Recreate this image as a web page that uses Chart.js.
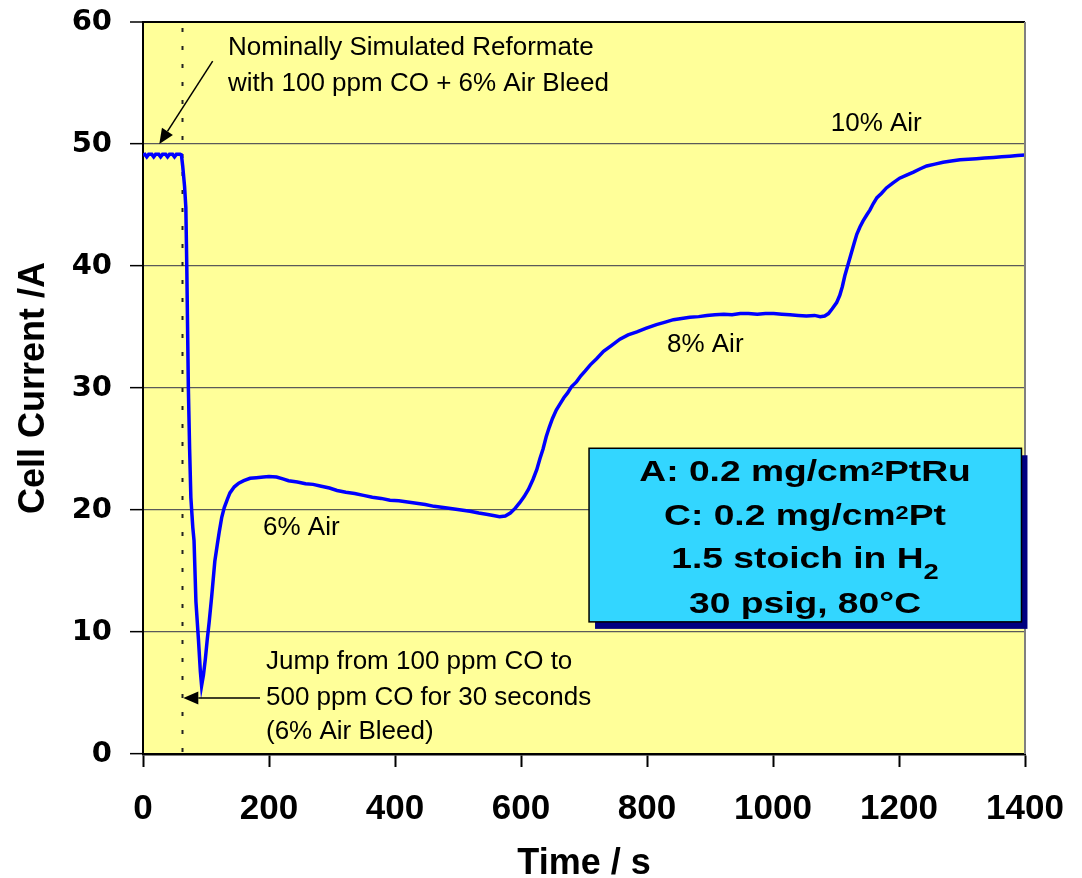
<!DOCTYPE html>
<html>
<head>
<meta charset="utf-8">
<script src="https://cdn.jsdelivr.net/npm/chart.js@4.4.1/dist/chart.umd.min.js"></script>
<style>
  html, body { margin: 0; padding: 0; background: #ffffff; }
  canvas { display: block; }
</style>
</head>
<body>
<canvas id="chart" width="1082" height="878"></canvas>
<script>
// Cell current response to a CO pulse and to stepped air-bleed levels
const timeSec = [
  0, 3, 6, 9, 14, 17, 20, 25, 28, 31, 36, 39, 42, 47, 50, 53, 59, 61,
  63, 66, 68, 69.5, 72, 74, 76, 79, 81, 84, 88, 91, 93, 96, 99, 102, 105, 109,
  114, 118, 121, 125, 129, 134, 138, 145, 152, 160, 170, 180, 191, 200, 212,
  222, 231, 245, 258, 270, 283, 296, 308, 322, 336, 350, 364, 378, 392, 406,
  420, 434, 448, 462, 477, 491, 505, 519, 533, 545, 556, 566, 575, 583, 591,
  598, 605, 612, 619, 625, 630, 635, 640, 645, 650, 656, 662, 668, 674, 680,
  688, 695, 702, 710, 720, 731, 744, 757, 770, 784, 799, 815, 829, 842, 855,
  868, 882, 895, 908, 922, 935, 948, 961, 975, 988, 1001, 1014, 1027, 1040,
  1053, 1066, 1075, 1082, 1088, 1094, 1101, 1106, 1110, 1114, 1119, 1124,
  1129, 1133, 1138, 1143, 1149, 1154, 1159, 1165, 1172, 1180, 1190, 1201,
  1212, 1223, 1233, 1244, 1257, 1270, 1283, 1297, 1310, 1323, 1336, 1350,
  1363, 1376, 1388, 1400
];
const cellCurrent = [
  49.1, 49.15, 48.95, 49.15, 49.15, 48.95, 49.15, 49.15, 48.95, 49.15, 49.15, 48.95, 49.15, 49.15, 48.95, 49.15, 49.15, 49.1,
  48.2, 46.5, 44.8, 40.0, 30.0, 25.0, 21.0, 18.6, 17.5, 12.5, 9.4, 6.8, 5.6, 6.5, 7.8, 9.4, 10.8, 12.9,
  15.8, 17.2, 18.2, 19.4, 20.2, 20.9, 21.4, 21.9, 22.2, 22.4, 22.6, 22.65, 22.7, 22.75, 22.7,
  22.55, 22.4, 22.3, 22.15, 22.1, 21.95, 21.8, 21.6, 21.45, 21.35, 21.2, 21.05, 20.95, 20.8, 20.75,
  20.65, 20.55, 20.45, 20.3, 20.2, 20.1, 20.0, 19.9, 19.75, 19.65, 19.55, 19.45, 19.5, 19.75, 20.15,
  20.6, 21.1, 21.7, 22.5, 23.3, 24.2, 25.0, 26.0, 26.8, 27.5, 28.2, 28.7, 29.2, 29.6, 30.1,
  30.5, 31.0, 31.4, 31.9, 32.4, 33.0, 33.5, 34.0, 34.35, 34.6, 34.9, 35.2, 35.4, 35.6, 35.7,
  35.8, 35.85, 35.95, 36.0, 36.05, 36.0, 36.1, 36.1, 36.05, 36.1, 36.1, 36.05, 36.0, 35.95,
  35.9, 35.95, 35.85, 35.9, 36.1, 36.5, 37.0, 37.6, 38.3, 39.2, 40.1, 41.0,
  41.9, 42.6, 43.2, 43.7, 44.2, 44.6, 45.1, 45.6, 45.95, 46.4, 46.8, 47.2,
  47.45, 47.7, 47.95, 48.2, 48.35, 48.5, 48.6, 48.7, 48.75, 48.8, 48.85, 48.9,
  48.95, 49.0, 49.05, 49.1
];
const timeTicks = [0, 200, 400, 600, 800, 1000, 1200, 1400];
const currentTicks = [0, 10, 20, 30, 40, 50, 60];

// Moment of the 500 ppm CO pulse (dotted marker)
const pulseTime = 62;

const SANS = '"Liberation Sans", Arial, Helvetica, sans-serif';

function arrow(ctx, x1, y1, x2, y2) {
  const ang = Math.atan2(y2 - y1, x2 - x1);
  const len = 15, half = 6.5;
  const bx = x2 - len * Math.cos(ang), by = y2 - len * Math.sin(ang);
  ctx.beginPath();
  ctx.moveTo(x1, y1);
  ctx.lineTo(bx, by);
  ctx.strokeStyle = '#000';
  ctx.lineWidth = 1.5;
  ctx.stroke();
  ctx.beginPath();
  ctx.moveTo(x2, y2);
  ctx.lineTo(bx + half * Math.sin(ang), by - half * Math.cos(ang));
  ctx.lineTo(bx - half * Math.sin(ang), by + half * Math.cos(ang));
  ctx.closePath();
  ctx.fillStyle = '#000';
  ctx.fill();
}

// One line of the conditions box: runs of text with their own size and vertical shift
function richLine(ctx, parts, cx, baseline, stretch) {
  let total = 0;
  parts.forEach(p => {
    ctx.font = 'bold ' + p.size + 'px ' + SANS;
    p.w = ctx.measureText(p.text).width;
    total += p.w;
  });
  ctx.save();
  ctx.translate(cx, baseline);
  ctx.scale(stretch, 1);
  ctx.fillStyle = '#000';
  ctx.textBaseline = 'alphabetic';
  ctx.textAlign = 'left';
  let x = -total / 2;
  parts.forEach(p => {
    ctx.font = 'bold ' + p.size + 'px ' + SANS;
    ctx.fillText(p.text, x, p.dy || 0);
    x += p.w;
  });
  ctx.restore();
}

const decorPlugin = {
  id: 'decor',
  beforeDraw(chart) {
    const { ctx, chartArea: a } = chart;
    ctx.save();
    ctx.fillStyle = '#FFFF99';
    ctx.fillRect(a.left, a.top, a.right - a.left, a.bottom - a.top);
    ctx.restore();
  },
  beforeDatasetsDraw(chart) {
    const { ctx, chartArea: a, scales: { x } } = chart;
    const px = Math.round(x.getPixelForValue(pulseTime)) + 0.5;
    ctx.save();
    ctx.strokeStyle = '#222';
    ctx.lineWidth = 2;
    ctx.setLineDash([4, 14]);
    ctx.beginPath();
    ctx.moveTo(px, a.top + 6);
    ctx.lineTo(px, a.bottom);
    ctx.stroke();
    ctx.restore();
  },
  afterDatasetsDraw(chart) {
    const { ctx, chartArea: a, scales: { x, y } } = chart;
    const X = v => x.getPixelForValue(v);
    const Y = v => y.getPixelForValue(v);
    ctx.save();

    // right frame edge
    ctx.strokeStyle = '#808080';
    ctx.lineWidth = 2;
    ctx.beginPath();
    ctx.moveTo(a.right, a.top);
    ctx.lineTo(a.right, a.bottom);
    ctx.stroke();

    // annotations
    ctx.fillStyle = '#000';
    ctx.font = '26px ' + SANS;
    ctx.textAlign = 'left';
    ctx.textBaseline = 'alphabetic';
    ctx.fillText('Nominally Simulated Reformate', X(135), Y(57.26));
    ctx.fillText('with 100 ppm CO + 6% Air Bleed', X(135), Y(54.35));
    arrow(ctx, X(110.6), Y(56.8), X(25.9), Y(50.0));

    ctx.fillStyle = '#000';
    ctx.font = '26px ' + SANS;
    ctx.fillText('10% Air', X(1091.6), Y(51.05));
    ctx.fillText('8% Air', X(831.7), Y(32.95));
    ctx.fillText('6% Air', X(190.5), Y(17.97));
    ctx.fillText('Jump from 100 ppm CO to', X(195.2), Y(6.97));
    ctx.fillText('500 ppm CO for 30 seconds', X(195.2), Y(4.02));
    ctx.fillText('(6% Air Bleed)', X(195.2), Y(1.23));
    arrow(ctx, X(185.7), Y(4.59), X(64), Y(4.59));

    // conditions box with drop shadow
    const bl = X(708), br = X(1394.4), bt = Y(25.06), bb = Y(10.83);
    ctx.fillStyle = '#000080';
    ctx.fillRect(bl + 6, bt + 7, br - bl, bb - bt);
    ctx.fillStyle = '#33D6FF';
    ctx.fillRect(bl, bt, br - bl, bb - bt);
    ctx.strokeStyle = '#000';
    ctx.lineWidth = 1.5;
    ctx.strokeRect(bl, bt, br - bl, bb - bt);

    const cx = X(1050.8);
    const st = 1.24;
    richLine(ctx, [{ text: 'A: 0.2 mg/cm', size: 30 }, { text: '2', size: 19, dy: -6 }, { text: 'PtRu', size: 30 }], cx, Y(22.34), st);
    richLine(ctx, [{ text: 'C: 0.2 mg/cm', size: 30 }, { text: '2', size: 19, dy: -6 }, { text: 'Pt', size: 30 }], cx, Y(18.79), st);
    richLine(ctx, [{ text: '1.5 stoich in H', size: 30 }, { text: '2', size: 22, dy: 11 }], cx, Y(15.26), st);
    richLine(ctx, [{ text: '30 psig, 80\u00B0C', size: 30 }], cx, Y(11.57), st);

    ctx.restore();
  }
};

new Chart(document.getElementById('chart'), {
  type: 'line',
  data: {
    datasets: [{
      label: 'Cell Current',
      data: timeSec.map((t, i) => ({ x: t, y: cellCurrent[i] })),
      borderColor: '#0000FF',
      borderWidth: 3.5,
      pointRadius: 0,
      tension: 0,
      fill: false
    }]
  },
  options: {
    responsive: false,
    animation: false,
    devicePixelRatio: 1,
    layout: { padding: { top: 22, right: 57, bottom: 0, left: 0 } },
    plugins: { legend: { display: false }, tooltip: { enabled: false } },
    scales: {
      x: {
        type: 'linear',
        min: 0, max: 1400,
        afterBuildTicks: s => { s.ticks = timeTicks.map(v => ({ value: v })); },
        afterFit: s => {
          s.height = 124;
          s.paddingLeft = 0; s.paddingRight = 0;
        },
        grid: { drawOnChartArea: false, drawTicks: true, tickLength: 13, tickColor: '#000', tickWidth: 2 },
        border: { display: true, color: '#000', width: 2.5 },
        ticks: {
          color: '#000',
          padding: 21,
          maxRotation: 0,
          callback: v => String(v),
          font: { family: SANS, size: 35, weight: 'bold' }
        },
        title: {
          display: true,
          text: 'Time / s',
          color: '#000',
          padding: { top: 0, bottom: 0 },
          font: { family: SANS, size: 36, weight: 'bold', lineHeight: 0.75 }
        }
      },
      y: {
        type: 'linear',
        min: 0, max: 60,
        afterBuildTicks: s => { s.ticks = currentTicks.map(v => ({ value: v })); },
        afterFit: s => {
          s.width = 143;
          s.paddingTop = 0; s.paddingBottom = 0;
        },
        grid: {
          color: c => (c.tick && c.tick.value === 60) ? '#000' : '#5a5a5a',
          lineWidth: c => (c.tick && c.tick.value === 60) ? 2 : 1.3,
          drawTicks: true,
          tickLength: 13,
          tickColor: '#000',
          tickWidth: 1.5
        },
        border: { display: true, color: '#000', width: 2 },
        ticks: {
          color: '#000',
          padding: 18,
          callback: v => String(v),
          font: { family: '"DejaVu Sans", Verdana, sans-serif', size: 29, weight: 'bold' }
        },
        title: {
          display: true,
          text: 'Cell Current /A',
          color: '#000',
          padding: { top: 12, bottom: 0 },
          font: { family: SANS, size: 36, weight: 'bold', lineHeight: 1.2 }
        }
      }
    }
  },
  plugins: [decorPlugin]
});
</script>
</body>
</html>
